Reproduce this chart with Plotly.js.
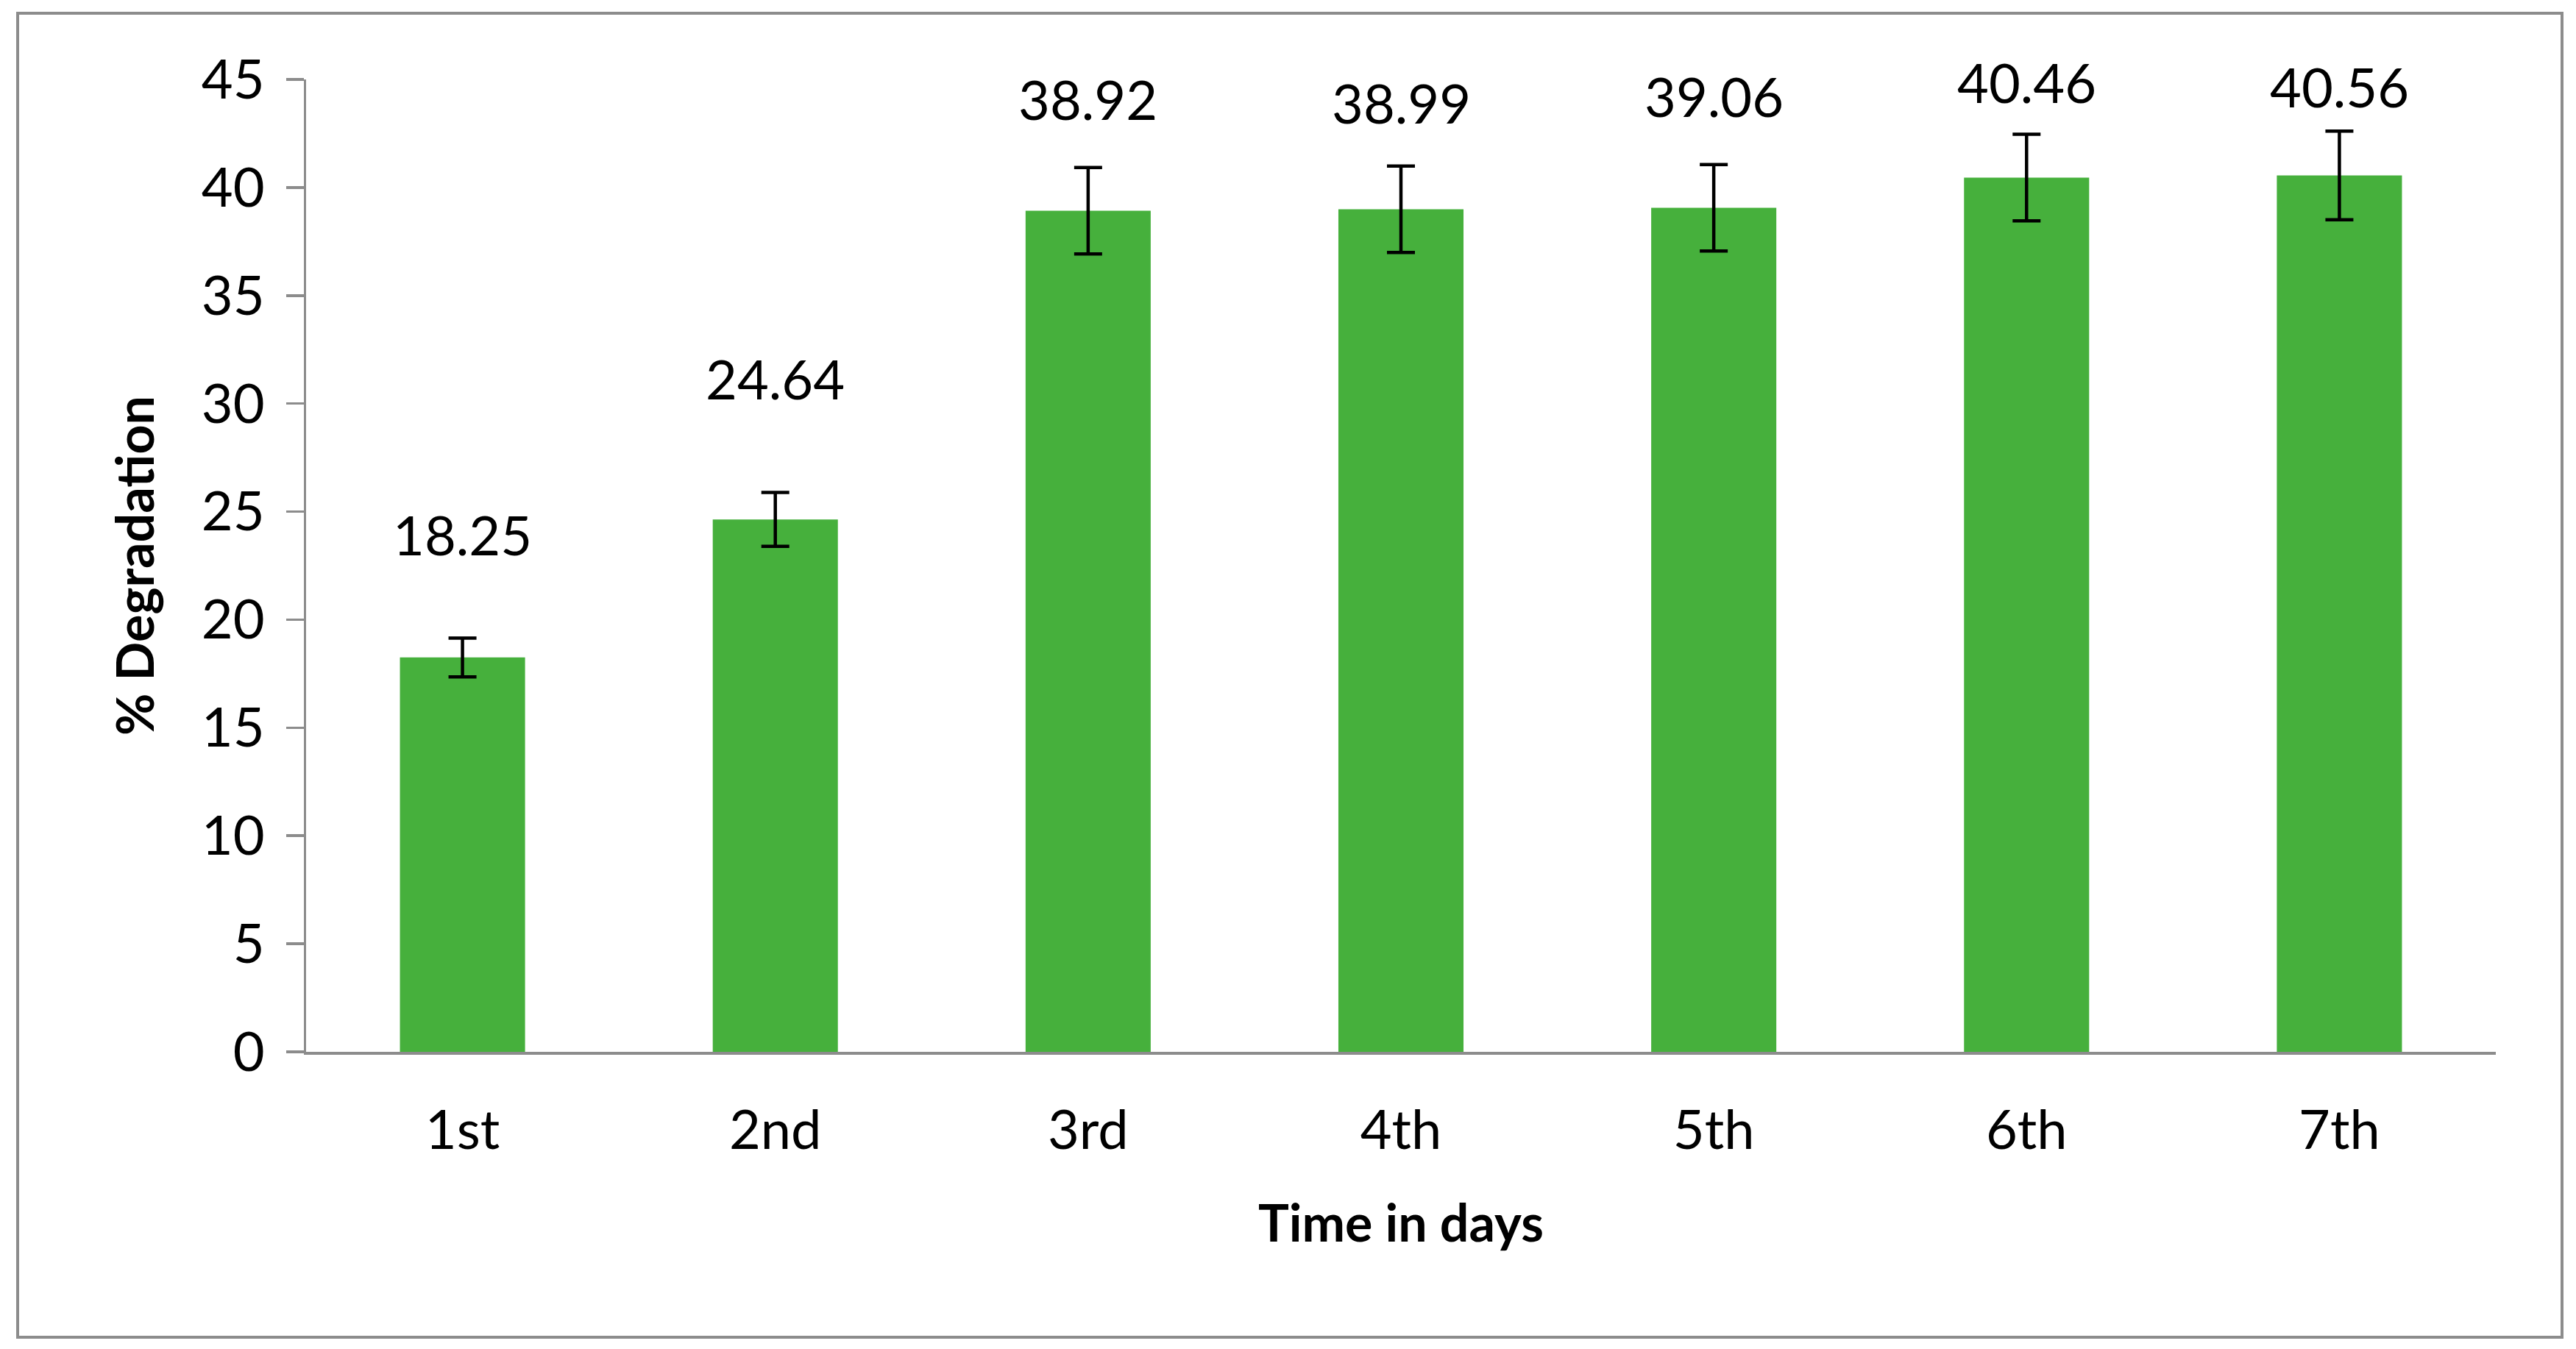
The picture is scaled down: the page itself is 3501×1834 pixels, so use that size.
<!DOCTYPE html>
<html>
<head>
<meta charset="utf-8">
<script src="https://cdn.plot.ly/plotly-3.0.1.min.js"></script>
<style>
  html, body { margin: 0; padding: 0; background: #fff; }
  #frame { position: absolute; left: 22px; top: 16px; width: 3462px; height: 1804px; border: 4px solid #8c8c8c; box-sizing: border-box; pointer-events: none; z-index: 5; }
  #chart { width: 3501px; height: 1834px; }
</style>
</head>
<body>
<div id="frame"></div>
<div id="chart"></div>
<script>
const days = ["1st", "2nd", "3rd", "4th", "5th", "6th", "7th"];
const degradation = [18.25, 24.64, 38.92, 38.99, 39.06, 40.46, 40.56];
const errors = [0.9, 1.25, 2.0, 2.0, 2.0, 2.0, 2.05];
const yTicks = [0, 5, 10, 15, 20, 25, 30, 35, 40, 45];

// label vertical lift above bar top (px), layout only
const labelLift = [167, 192, 152, 145, 152, 130, 121];

const FONT = "Lato, 'Open Sans', sans-serif";

const trace = {
  type: "bar",
  x: days,
  y: degradation,
  marker: { color: "#46b03c" },
  error_y: { type: "data", array: errors, visible: true, color: "#000000", thickness: 4.5, width: 19 },
  hoverinfo: "x+y"
};

const annotations = days.map((d, i) => ({
  x: d, y: degradation[i], xref: "x", yref: "y",
  text: degradation[i].toFixed(2),
  showarrow: false, yshift: labelLift[i], yanchor: "middle",
  font: { family: FONT, size: 74, color: "#000" }
}));

const layout = {
  width: 3501, height: 1834,
  margin: { l: 416, r: 109, t: 108, b: 404 },
  paper_bgcolor: "#fff", plot_bgcolor: "#fff",
  showlegend: false,
  bargap: 0.6,
  xaxis: {
    type: "category",
    showline: true, linecolor: "#8c8c8c", linewidth: 3.5,
    ticks: "", showgrid: false, zeroline: false,
    tickfont: { family: FONT, size: 74, color: "#000" },
    ticklabelstandoff: 40,
    title: { text: "<b>Time in days</b>", font: { family: FONT, size: 70, color: "#000" }, standoff: 62 }
  },
  yaxis: {
    range: [0, 45], tickvals: yTicks, ticktext: yTicks.map(String),
    showline: true, linecolor: "#8c8c8c", linewidth: 3.5,
    ticks: "outside", ticklen: 24, tickwidth: 3.5, tickcolor: "#8c8c8c",
    showgrid: false, zeroline: false,
    tickfont: { family: FONT, size: 74, color: "#000" },
    ticklabelstandoff: 14,
    title: { text: "<b>% Degradation</b>", font: { family: FONT, size: 70, color: "#000" }, standoff: 42 }
  },
  annotations: annotations
};

Plotly.newPlot("chart", [trace], layout, { displayModeBar: false, staticPlot: true });
</script>
</body>
</html>
